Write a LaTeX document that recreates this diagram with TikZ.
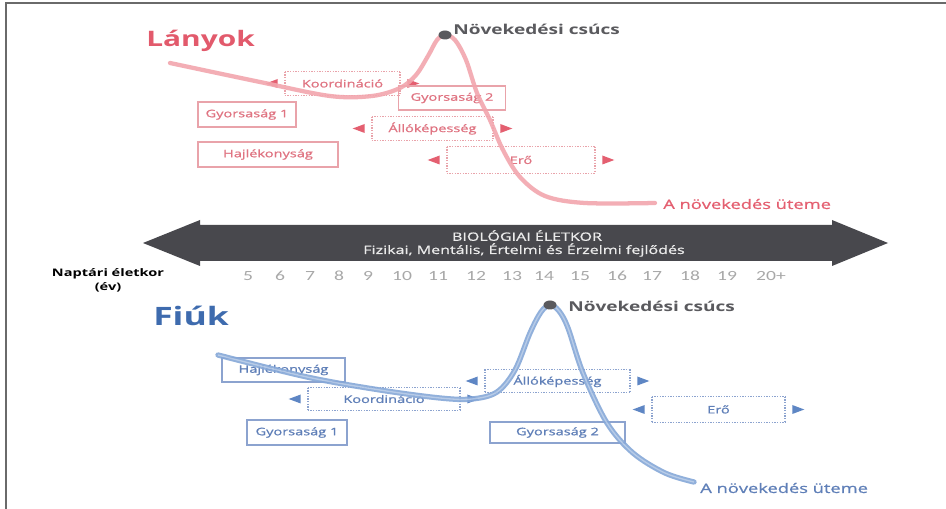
\documentclass[tikz,border=0pt]{standalone}
\usepackage{fontspec}
\setmainfont[FakeStretch=1.4]{Open Sans}
\newfontfamily\semifont[FakeStretch=1.4,FakeBold=0.9]{Open Sans}
\newfontfamily\numfont[FakeStretch=1.4]{Carlito}
\usetikzlibrary{calc}
\definecolor{pinkT}{HTML}{E25A6C}
\definecolor{pinkL}{HTML}{E07482}
\definecolor{pinkB}{HTML}{E9A3AA}
\definecolor{pinkA}{HTML}{E45F70}
\definecolor{pinkC}{HTML}{F2A6AE}
\definecolor{blueT}{HTML}{3E6BAE}
\definecolor{blueL}{HTML}{5F7FB8}
\definecolor{blueB}{HTML}{8CA3CF}
\definecolor{blueA}{HTML}{5E86C4}
\definecolor{blueC}{HTML}{86A8D8}
\definecolor{darkA}{HTML}{48484D}
\definecolor{grayT}{HTML}{5A5A5E}
\definecolor{numG}{HTML}{A8A8A8}
\definecolor{frameC}{HTML}{6A6A6A}
\tikzset{
  lbl/.style={inner sep=0pt, font=\semifont\fontsize{7.8}{8}\selectfont},
  sboxst/.style={lbl, draw, line width=0.9pt, rectangle},
  titlest/.style={inner sep=0pt, font=\fontsize{16}{18}\selectfont\bfseries},
  peakst/.style={inner sep=0pt, text=grayT, font=\fontsize{10.2}{11}\selectfont\bfseries},
  ratest/.style={inner sep=0pt, font=\semifont\fontsize{9.8}{11}\selectfont},
  numst/.style={inner sep=0pt, text=numG, font=\numfont\fontsize{10.5}{12}\selectfont},
  biost/.style={inner sep=0pt, text=white!92!black, font=\semifont\fontsize{8.6}{9}\selectfont},
}
\newcommand\SBox[8]{% name, x, y, w, h, text, line colour, text colour
  \node[sboxst, draw=#7, text=#8, minimum width=#4*0.75pt, minimum height=#5*0.75pt] (#1) at (#2,#3) {#6};}
\newcommand\DBox[9]{% name, x, y, w, h, text, line colour, text colour, arrow colour
  \node[lbl, text=#8, minimum width=#4*0.75pt, minimum height=#5*0.75pt] (#1) at (#2,#3) {#6};
  \draw[#7, line width=0.9pt, dash pattern=on 0.9pt off 1.1pt] (#1.north west) -- (#1.north east) (#1.south west) -- (#1.south east);
  \draw[#7, line width=1.7pt, dash pattern=on 1pt off 1pt] (#1.north west) -- (#1.south west) (#1.north east) -- (#1.south east);
  \fill[#9] ($(#1.west)+(-7,-4.5)$) -- ($(#1.west)+(-7,4.5)$) -- ($(#1.west)+(-19,0)$) -- cycle;
  \fill[#9] ($(#1.east)+(7,-4.5)$) -- ($(#1.east)+(7,4.5)$) -- ($(#1.east)+(19,0)$) -- cycle;}
\begin{document}
\begin{tikzpicture}[x=0.75pt,y=-0.75pt]
\useasboundingbox (0,0) rectangle (946,509);
\fill[white] (0,0) rectangle (946,509);
% frame
\draw[frameC, line width=1.6pt] (6,509) -- (6,3) -- (946,3);

% ---------- girls ----------
\node[titlest, text=pinkT, anchor=base west] (lanyok) at (146,47) {Lányok};
\DBox{gkoord}{342.5}{83.5}{115}{23}{Koordináció}{pinkB}{pinkL}{pinkA}
\SBox{ggy2}{452}{98}{107}{24}{Gyorsaság 2}{pinkB}{pinkL}
\SBox{ggy1}{247}{114.5}{98}{25}{Gyorsaság 1}{pinkB}{pinkL}
\DBox{gallo}{432.5}{128.5}{121}{23}{Állóképesség}{pinkB}{pinkL}{pinkA}
\SBox{ghajl}{268}{154.5}{140}{25}{Hajlékonyság}{pinkB}{pinkL}
\DBox{gero}{521}{160}{148}{26}{Erő}{pinkB}{pinkL}{pinkA}
\coordinate (gstart) at (170,63);
\coordinate (gpeak) at (445,35);
\coordinate (gend) at (655,203);
\draw[pinkC, line width=3.2pt, opacity=0.9, line cap=round] plot[smooth, tension=0.55] coordinates {(gstart) (260,82) (330,96) (372,96) (400,88) (416,75) (428,56) (437,40) (gpeak) (455,40) (466,60) (477,93) (490,120) (503,150) (520,177) (545,196) (585,203) (gend)};
\fill[grayT] (gpeak) ellipse [x radius=6.5, y radius=4.5];
\node[peakst, anchor=west] (gpeaklbl) at (453,29) {Növekedési csúcs};
\node[ratest, text=pinkA, anchor=west] (grate) at (663,204) {A növekedés üteme};

% ---------- middle band ----------
\fill[darkA] (143,243) -- (200,220) -- (200,225) -- (832,225) -- (832,220) -- (888,243) -- (832,266) -- (832,261) -- (200,261) -- (200,266) -- cycle;
\node[biost] (bio1) at (527,235.5) {BIOLÓGIAI ÉLETKOR};
\node[biost] (bio2) at (524,250) {Fizikai, Mentális, Értelmi és Érzelmi fejlődés};
\node[inner sep=0pt, align=center, font=\fontsize{7.8}{10.5}\selectfont\bfseries] (napt) at (108,280) {Naptári életkor\\(év)};
\foreach \n/\x in {5/248,6/280,7/310,8/339,9/368,10/402,11/438,12/476,13/512,14/544,15/580,16/617,17/652,18/690,19/727,20+/771}{
  \node[numst] (num\n) at (\x,276) {\n};
}

% ---------- boys ----------
\node[titlest, text=blueT, anchor=base west, font=\fontsize{19}{21}\selectfont\bfseries] (fiuk) at (153,326) {Fiúk};
\SBox{bhajl}{283.5}{370}{123}{24}{Hajlékonyság}{blueB}{blueL}
\DBox{bkoord}{384}{399}{152}{22}{Koordináció}{blueB}{blueL}{blueA}
\SBox{bgy1}{297}{432.5}{100}{25}{Gyorsaság 1}{blueB}{blueL}
\DBox{ballo}{557.5}{381}{145}{23}{Állóképesség}{blueB}{blueL}{blueA}
\DBox{bero}{718.5}{409.5}{133}{25}{Erő}{blueB}{blueL}{blueA}
\SBox{bgy2}{557.5}{432.5}{135}{21}{Gyorsaság 2}{blueB}{blueL}
\coordinate (bstart) at (218,355);
\coordinate (bpeak) at (550,305);
\coordinate (bend) at (694,482);
\draw[blueC, line width=4pt, opacity=0.9, line cap=round] plot[smooth, tension=0.55] coordinates {(bstart) (307,377) (380,390) (440,398) (472,399) (497,392) (515,370) (530,333) (541,312) (bpeak) (559,311) (568,328) (583,373) (607,423) (633,453) (665,473) (bend)};
\draw[white, line width=1pt, opacity=0.35] plot[smooth, tension=0.55] coordinates {(bstart) (307,377) (380,390) (440,398) (472,399) (497,392) (515,370) (530,333) (541,312) (bpeak) (559,311) (568,328) (583,373) (607,423) (633,453) (665,473) (bend)};
\fill[grayT] (bpeak) ellipse [x radius=6.5, y radius=4.5];
\node[peakst, anchor=west] (bpeaklbl) at (568,306) {Növekedési csúcs};
\node[ratest, text=blueL, anchor=west] (brate) at (700,488) {A növekedés üteme};
\end{tikzpicture}
\end{document}
